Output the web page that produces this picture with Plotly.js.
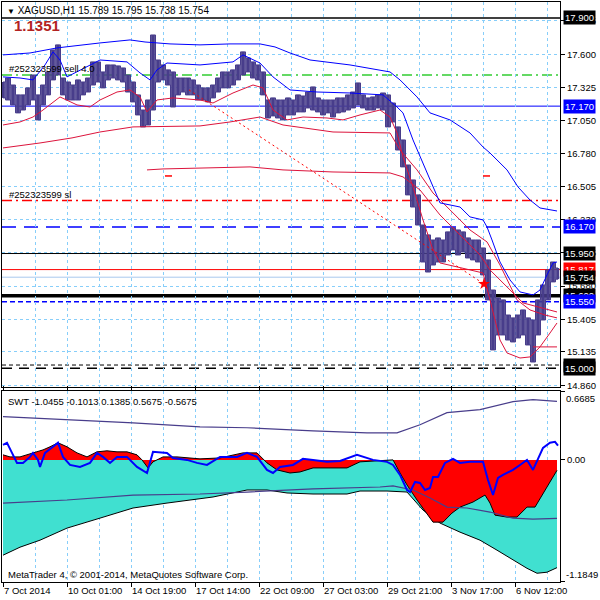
<!DOCTYPE html>
<html><head><meta charset="utf-8">
<script src="https://cdn.plot.ly/plotly-3.0.1.min.js"></script>
<style>html,body{margin:0;padding:0;background:#fff}#chart{width:600px;height:600px}</style>
</head><body><div id="chart"></div>
<script>
const FONT = 'Liberation Sans, Arial, sans-serif';
const symbolName = 'XAGUSD,H1';
const lastBar = [15.789, 15.795, 15.738, 15.754];
const spreadText = '1.1351';
const orderLabel = '#252323599 sell 4.0';
const slLabel = '#252323599 sl';
const swtValues = [-1.0455, -0.1013, 0.1385, 0.5675, -0.5675];

const dateTickBars = [0, 64, 128, 192, 256, 320, 384, 448, 512];
const dateTickLabels = ['7 Oct 2014', '10 Oct 01:00', '14 Oct 19:00', '17 Oct 14:00', '22 Oct 09:00', '27 Oct 03:00', '29 Oct 21:00', '3 Nov 17:00', '6 Nov 12:00'];
const gridBars = [32, 96, 160, 224, 288, 352, 416, 480, 544];
const priceTicks = [17.875, 17.600, 17.325, 17.050, 16.780, 16.505, 16.230, 15.955, 15.680, 15.405, 15.135, 14.860];

const priceStep = 5;
const priceHigh = [17.370,17.403,17.345,17.263,17.263,17.321,17.428,17.263,17.345,17.453,
17.635,17.677,17.403,17.370,17.345,17.387,17.370,17.403,17.536,17.536,
17.453,17.511,17.511,17.503,17.486,17.428,17.370,17.263,17.138,17.221,
17.759,17.552,17.511,17.470,17.453,17.403,17.403,17.403,17.387,17.345,
17.321,17.321,17.345,17.403,17.453,17.453,17.470,17.511,17.619,17.569,
17.536,17.511,17.453,17.221,17.238,17.221,17.221,17.238,17.221,17.263,
17.254,17.287,17.329,17.238,17.221,17.221,17.221,17.238,17.238,17.263,
17.287,17.362,17.263,17.238,17.246,17.263,17.279,17.263,17.196,16.998,
16.890,16.683,16.559,16.435,16.186,16.104,16.062,16.079,16.062,16.129,
16.162,16.145,16.129,16.079,16.062,16.062,15.996,15.897,15.648,15.582,
15.566,15.441,15.417,15.441,15.483,15.417,15.400,15.566,15.690,15.814,
15.880,15.830];
const priceLow = [17.238,17.221,17.180,17.114,17.138,17.180,17.221,17.056,17.180,17.263,
17.387,17.428,17.263,17.221,17.221,17.221,17.263,17.287,17.345,17.370,
17.321,17.387,17.403,17.387,17.370,17.287,17.205,17.097,16.998,17.014,
17.138,17.370,17.387,17.345,17.163,17.263,17.287,17.263,17.263,17.221,
17.221,17.205,17.238,17.287,17.321,17.321,17.345,17.387,17.428,17.453,
17.403,17.387,17.263,17.072,17.089,17.072,17.056,17.097,17.097,17.122,
17.122,17.155,17.138,17.122,17.097,17.114,17.080,17.114,17.122,17.138,
17.155,17.180,17.155,17.138,17.138,17.155,17.138,16.998,17.039,16.807,
16.667,16.435,16.335,16.186,15.880,15.797,15.855,15.880,15.880,15.938,
15.980,15.938,15.963,15.913,15.897,15.880,15.773,15.566,15.152,15.276,
15.276,15.234,15.218,15.251,15.276,15.193,15.052,15.276,15.400,15.566,
15.715,15.738];

const b1Bars = [0,27,54,77,97,127,142,167,197,227,257,272,287,307,347,387,397,414,427,447,467,480,487,504,515,527,537,554];
const b1 = [17.594,17.610,17.652,17.677,17.693,17.718,17.701,17.685,17.677,17.685,17.685,17.660,17.610,17.552,17.511,17.453,17.387,17.246,17.114,17.056,16.948,16.832,16.782,16.642,16.501,16.393,16.327,16.302];
const b2Bars = [0,17,30,42,50,57,64,84,97,124,137,147,154,164,197,230,240,257,270,287,314,347,380,394,400,410,420,430,437,457,467,480,484,489,497,507,517,530,537,544,550,554];
const b2 = [17.412,17.403,17.387,17.511,17.619,17.552,17.412,17.494,17.552,17.536,17.445,17.387,17.470,17.527,17.511,17.536,17.594,17.527,17.412,17.304,17.287,17.279,17.263,17.163,17.114,16.890,16.700,16.501,16.369,16.335,16.253,16.228,16.170,16.062,15.880,15.731,15.632,15.607,15.648,15.773,15.872,15.880];
const r1Bars = [0,17,30,40,57,74,87,97,114,127,137,144,154,170,197,210,230,250,260,270,284,300,324,340,357,377,387,394,400,410,420,429,437,480,487,497,504,517,527,537,547,554];
const r1 = [17.014,17.039,17.080,17.138,17.246,17.180,17.163,17.221,17.287,17.304,17.246,17.122,17.221,17.238,17.221,17.196,17.279,17.345,17.321,17.138,17.056,17.080,17.072,17.056,17.097,17.138,17.080,16.948,16.749,16.501,16.228,16.004,15.872,15.789,15.566,15.234,15.127,15.085,15.094,15.177,15.292,15.375];
const r2Bars = [0,37,69,97,130,197,227,257,280,330,387,397,414,430,447,467,484,497,514,527,542,554];
const r2 = [16.824,16.865,16.907,16.956,16.998,17.006,17.039,17.080,17.014,16.956,16.948,16.807,16.642,16.451,16.311,16.145,16.046,15.855,15.566,15.483,15.441,15.417];
const r3Bars = [144,160,247,280,330,387,400,417,437,457,477,487,520,554];
const r3 = [16.642,16.650,16.667,16.642,16.625,16.617,16.584,16.476,16.269,16.104,15.938,15.814,15.541,15.466];
const markABars = [162,169], markA = [16.592,16.592];
const markBBars = [480,487], markB = [16.592,16.592];
const markCBars = [530,554], markC = [15.177,15.177];
const tradeBars = [186, 481];
const tradePrices = [17.304, 15.698];

const levelPrices = [17.900, 17.427, 17.170, 16.388, 16.170, 15.950, 15.817, 15.754, 15.600, 15.550, 15.027, 15.000];
const levelColors = ['#000000','#32cd32','#0000ff','#ff0000','#0000ff','#000000','#ff0000','#a9c8ee','#000000','#0000ff','#000000','#000000'];
const levelDash = ['solid','10px,4px,2px,4px','solid','10px,4px,2px,4px','14px,8px','solid','solid','solid','solid','5px,3px','4px,3px','10px,7px'];
const levelWidth = [1.5,1.5,1,1.5,1.5,1,1,1,3.5,1.5,1,1.5];
const boxPrices = [17.900, 17.170, 16.170, 15.950, 15.817, 15.754, 15.600, 15.550, 15.027, 15.000];
const boxColors = ['#000000','#0000ff','#0000ff','#000000','#ff0000','#000000','#000000','#0000ff','#000000','#000000'];

// lower window (SWT)
const s1Bars = [0,7,17,30,40,47,55,64,74,84,94,104,114,124,134,139,145,150,160,174,184,197,217,240,254,264,274,287,297,310,324,344,357,377,390,397,404,414,424,430,440,449,457,470,482,487,492,504,514,524,532,540,547,554];
const s1 = [0.049,0.029,0.029,0.068,0.097,0.127,0.166,0.127,0.068,0.029,0.078,0.088,0.078,0.078,0.049,0,-0.078,-0.019,0.029,0.029,0.019,0.010,0.019,0.068,0.068,-0.029,-0.097,-0.127,-0.117,-0.078,-0.078,-0.078,-0.019,-0.010,0,-0.127,-0.243,-0.389,-0.516,-0.604,-0.604,-0.516,-0.458,-0.409,-0.341,-0.419,-0.536,-0.555,-0.555,-0.458,-0.458,-0.321,-0.214,-0.1013];
const s2Bars = [0,17,37,64,97,130,164,197,210,244,264,284,310,344,357,384,404,420,437,457,477,494,510,524,534,544,554];
const s2 = [-0.925,-0.847,-0.779,-0.662,-0.565,-0.467,-0.419,-0.380,-0.360,-0.292,-0.292,-0.321,-0.331,-0.331,-0.302,-0.302,-0.312,-0.487,-0.613,-0.701,-0.779,-0.876,-0.974,-1.052,-1.100,-1.090,-1.0455];
const sigBars = [0,4,9,14,20,27,30,35,37,42,50,55,60,67,77,87,94,100,107,114,124,134,144,150,164,170,184,194,204,217,234,244,254,264,270,277,290,300,310,324,337,354,370,384,390,397,404,407,412,417,422,427,430,435,442,450,457,467,480,485,490,495,500,510,517,524,530,535,540,547,552,555];
const sig = [0.146,0.166,0.068,-0.029,-0.029,0.029,0.068,0,-0.068,0.068,0.127,0.166,0.029,-0.049,-0.068,-0.029,0.068,0.029,-0.029,0.029,0.029,-0.068,-0.127,0.078,0.068,0.019,0,-0.029,-0.049,0.029,0.029,0.068,0.029,-0.097,-0.127,-0.068,-0.049,0.010,0,-0.019,-0.010,0.049,0,-0.019,-0.049,-0.146,-0.292,-0.312,-0.214,-0.224,-0.292,-0.273,-0.166,-0.166,-0.029,0.010,-0.029,-0.019,-0.019,-0.195,-0.341,-0.175,-0.146,-0.097,-0.049,0,-0.097,0.019,0.117,0.166,0.175,0.1385];
const p1Bars = [0,64,130,197,244,310,364,394,417,444,477,510,530,554];
const p1 = [0.419,0.389,0.360,0.321,0.312,0.282,0.263,0.263,0.341,0.458,0.487,0.565,0.584,0.5675];
const p2Bars = [0,64,130,197,244,310,377,390,410,427,444,464,487,510,530,554];
const p2 = [-0.419,-0.389,-0.341,-0.331,-0.312,-0.282,-0.263,-0.253,-0.292,-0.370,-0.458,-0.467,-0.506,-0.565,-0.575,-0.5675];
const swtMax = 0.6685, swtMin = -1.1849;

// ---- price: high/low range of each bar group, stepped band + bar strokes ----
const priceBars = priceHigh.map((_, i) => i * priceStep);
const PRICE_COLOR = '#483d8b';
const strokeX = [], strokeY = [];
priceHigh.forEach((h, i) => { strokeX.push(priceBars[i], priceBars[i], null); strokeY.push(h, priceLow[i], null); });

const line = (x, y, color, width, extra) => Object.assign({type:'scatter', mode:'lines', x, y, line:{color, width}, hoverinfo:'skip', xaxis:'x', yaxis:'y'}, extra || {});

const traces = [
  line(priceBars, priceLow, PRICE_COLOR, 1, {line:{color:PRICE_COLOR, width:1, shape:'hvh'}}),
  line(priceBars, priceHigh, PRICE_COLOR, 1, {line:{color:PRICE_COLOR, width:1, shape:'hvh'}, fill:'tonexty', fillcolor:'rgba(72,61,139,0.85)'}),
  line(strokeX, strokeY, PRICE_COLOR, 2.5, {connectgaps:false}),
  line(r3Bars, r3, '#dc143c', 1),
  line(r2Bars, r2, '#dc143c', 1),
  line(r1Bars, r1, '#dc143c', 1),
  line(b1Bars, b1, '#0000ff', 1),
  line(b2Bars, b2, '#0000ff', 1),
  line(markABars, markA, '#ff0000', 1.5),
  line(markBBars, markB, '#ff0000', 1.5),
  line(markCBars, markC, '#dc143c', 1),
  {type:'scatter', mode:'lines', x:tradeBars, y:tradePrices, line:{color:'#ff0000', width:1, dash:'2px,3px'}, hoverinfo:'skip'},
  {type:'scatter', mode:'markers', x:[tradeBars[1]], y:[tradePrices[1]], marker:{symbol:'star', size:9, color:'#ff0000'}, hoverinfo:'skip'},
  // lower window
  {type:'scatter', mode:'lines', x:s2Bars, y:s2, xaxis:'x', yaxis:'y2', fill:'tozeroy', fillcolor:'#40e0d0', line:{color:'#000', width:1}, hoverinfo:'skip'},
  {type:'scatter', mode:'lines', x:s1Bars, y:s1, xaxis:'x', yaxis:'y2', fill:'tozeroy', fillcolor:'#ff0000', line:{color:'#000', width:1}, hoverinfo:'skip'},
  {type:'scatter', mode:'lines', x:p1Bars, y:p1, xaxis:'x', yaxis:'y2', line:{color:'#483d8b', width:1.2}, hoverinfo:'skip'},
  {type:'scatter', mode:'lines', x:p2Bars, y:p2, xaxis:'x', yaxis:'y2', line:{color:'#483d8b', width:1.2}, hoverinfo:'skip'},
  {type:'scatter', mode:'lines', x:sigBars, y:sig, xaxis:'x', yaxis:'y2', line:{color:'#0000ff', width:2}, hoverinfo:'skip'}
];

const shapes = levelPrices.map((p, i) => ({
  type:'line', xref:'paper', x0:0, x1:1, yref:'y', y0:p, y1:p, layer:'between',
  line:{color:levelColors[i], width:levelWidth[i], dash:levelDash[i]}
}));

const annotations = [];
boxPrices.forEach((p, i) => annotations.push({
  xref:'paper', x:1, xanchor:'left', xshift:3, yref:'y', y:p, yanchor:'middle',
  text:p.toFixed(3), showarrow:false, bgcolor:boxColors[i], borderpad:1,
  font:{family:FONT, size:9.5, color:'#ffffff'}
}));
annotations.push(
  {xref:'paper', x:1, xanchor:'left', xshift:4, yref:'y2', y:swtMax, yanchor:'top', text:swtMax.toFixed(4), showarrow:false, font:{family:FONT, size:9.5, color:'#000'}},
  {xref:'paper', x:1, xanchor:'left', xshift:4, yref:'y2', y:swtMin, yanchor:'bottom', text:swtMin.toFixed(4), showarrow:false, font:{family:FONT, size:9.5, color:'#000'}},
  {xref:'paper', x:0, xanchor:'left', xshift:3, yref:'paper', y:1, yanchor:'top', yshift:-1,
   text:'<span style="font-size:8px">▼</span> ' + symbolName + ' ' + lastBar.map(v => v.toFixed(3)).join(' '),
   showarrow:false, font:{family:FONT, size:10, color:'#000'}},
  {xref:'paper', x:0, xanchor:'left', xshift:10, yref:'paper', y:1, yanchor:'top', yshift:-13,
   text:'<b>' + spreadText + '</b>', showarrow:false, font:{family:FONT, size:15, color:'#b22222'}},
  {xref:'paper', x:0, xanchor:'left', xshift:5, yref:'y', y:levelPrices[1], yanchor:'bottom', yshift:-1,
   text:orderLabel, showarrow:false, font:{family:FONT, size:9.5, color:'#000'}},
  {xref:'paper', x:0, xanchor:'left', xshift:5, yref:'y', y:levelPrices[3], yanchor:'bottom', yshift:-1,
   text:slLabel, showarrow:false, font:{family:FONT, size:9.5, color:'#000'}},
  {xref:'paper', x:0, xanchor:'left', xshift:4, yref:'paper', y:0.3293, yanchor:'top', yshift:-3,
   text:'SWT ' + swtValues.map(v => v.toFixed(4)).join(' '), showarrow:false, font:{family:FONT, size:9.5, color:'#000'}},
  {xref:'paper', x:0, xanchor:'left', xshift:4, yref:'paper', y:0, yanchor:'bottom', yshift:0,
   text:'MetaTrader 4, © 2001-2014, MetaQuotes Software Corp.', showarrow:false, font:{family:FONT, size:9.5, color:'#000'}}
);

const gridStyle = {gridcolor:'#87cefa', griddash:'3px,3px', gridwidth:1};
const layout = {
  width:600, height:600,
  margin:{l:2, r:40, t:2, b:18, pad:0},
  paper_bgcolor:'#ffffff', plot_bgcolor:'#ffffff',
  showlegend:false,
  font:{family:FONT, size:9.5, color:'#000'},
  xaxis:Object.assign({
    range:[-1, 557], anchor:'y2', domain:[0,1], tickmode:'array', tickvals:dateTickBars, ticktext:dateTickLabels,
    ticks:'outside', ticklen:4, tickcolor:'#000', ticklabelposition:'outside right',
    showgrid:true, zeroline:false, showline:true, mirror:'all', linecolor:'#000', linewidth:1,
    tickfont:{family:FONT, size:9.5, color:'#000'},
    minor:{tickmode:'array', tickvals:gridBars, showgrid:true, gridcolor:'#87cefa', griddash:'3px,3px', ticks:''}
  }, gridStyle),
  yaxis:Object.assign({
    domain:[0.3362, 1], range:[14.845, 18.032], side:'right', anchor:'x',
    tickmode:'array', tickvals:priceTicks, ticktext:priceTicks.map(v => v.toFixed(3)),
    ticks:'outside', ticklen:4, tickcolor:'#000', showgrid:true, zeroline:false,
    showline:true, mirror:true, linecolor:'#000', linewidth:1,
    tickfont:{family:FONT, size:9.5, color:'#000'}
  }, gridStyle),
  yaxis2:{
    domain:[0, 0.3293], range:[swtMin, swtMax], side:'right', anchor:'x',
    tickmode:'array', tickvals:[swtMax, 0, swtMin], ticktext:['', '0.00', ''],
    ticks:'outside', ticklen:4, tickcolor:'#000', showgrid:false, zeroline:false,
    showline:true, mirror:true, linecolor:'#000', linewidth:1,
    tickfont:{family:FONT, size:9.5, color:'#000'}
  },
  shapes, annotations
};

Plotly.newPlot('chart', traces, layout, {staticPlot:true, displayModeBar:false});
</script></body></html>
